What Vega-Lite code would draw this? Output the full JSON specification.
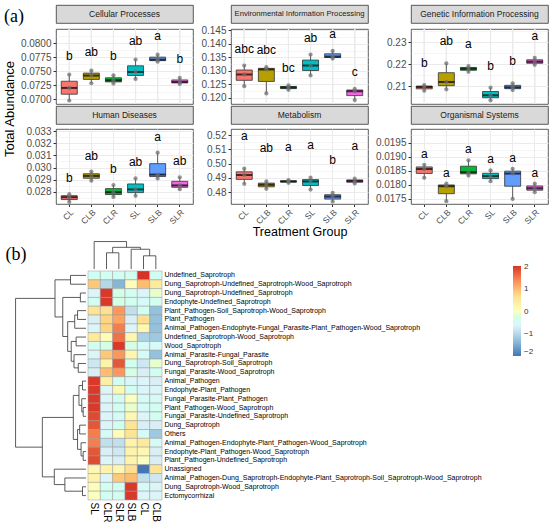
{
  "$schema": "https://vega.github.io/schema/vega-lite/v6.json",
  "padding": {"left": 3, "top": 4, "right": 1, "bottom": 1},
  "background": "white",
  "config": {
    "font": "Liberation Sans",
    "view": {"stroke": null},
    "axis": {"labelFont": "Liberation Sans", "titleFont": "Liberation Sans"},
    "text": {"font": "Liberation Sans"}
  },
  "datasets": {
    "box": [
      {"p":"C","g":"CL","l":"b","v":0.06982},{"p":"C","g":"CL","l":"b","v":0.07205},{"p":"C","g":"CL","l":"b","v":0.07442},
      {"p":"C","g":"CLB","l":"ab","v":0.07288},{"p":"C","g":"CLB","l":"ab","v":0.07424},{"p":"C","g":"CLB","l":"ab","v":0.07512},
      {"p":"C","g":"CLR","l":"b","v":0.07283},{"p":"C","g":"CLR","l":"b","v":0.07341},{"p":"C","g":"CLR","l":"b","v":0.07429},
      {"p":"C","g":"SL","l":"ab","v":0.07364},{"p":"C","g":"SL","l":"ab","v":0.07488},{"p":"C","g":"SL","l":"ab","v":0.07707},
      {"p":"C","g":"SLB","l":"a","v":0.07671},{"p":"C","g":"SLB","l":"a","v":0.07707},{"p":"C","g":"SLB","l":"a","v":0.07795},
      {"p":"C","g":"SLR","l":"b","v":0.07276},{"p":"C","g":"SLR","l":"b","v":0.07311},{"p":"C","g":"SLR","l":"b","v":0.07382},
      {"p":"E","g":"CL","l":"abc","v":0.12432},{"p":"E","g":"CL","l":"abc","v":0.12864},{"p":"E","g":"CL","l":"abc","v":0.13196},
      {"p":"E","g":"CLB","l":"abc","v":0.12162},{"p":"E","g":"CLB","l":"abc","v":0.13049},{"p":"E","g":"CLB","l":"abc","v":0.13134},
      {"p":"E","g":"CLR","l":"bc","v":0.12295},{"p":"E","g":"CLR","l":"bc","v":0.12384},{"p":"E","g":"CLR","l":"bc","v":0.12458},
      {"p":"E","g":"SL","l":"ab","v":0.12827},{"p":"E","g":"SL","l":"ab","v":0.13196},{"p":"E","g":"SL","l":"ab","v":0.13602},
      {"p":"E","g":"SLB","l":"a","v":0.13455},{"p":"E","g":"SLB","l":"a","v":0.13528},{"p":"E","g":"SLB","l":"a","v":0.13736},
      {"p":"E","g":"SLR","l":"c","v":0.11915},{"p":"E","g":"SLR","l":"c","v":0.12247},{"p":"E","g":"SLR","l":"c","v":0.12332},
      {"p":"G","g":"CL","l":"b","v":0.20786},{"p":"G","g":"CL","l":"b","v":0.20955},{"p":"G","g":"CL","l":"b","v":0.21045},
      {"p":"G","g":"CLB","l":"ab","v":0.2085},{"p":"G","g":"CLB","l":"ab","v":0.21182},{"p":"G","g":"CLB","l":"ab","v":0.22032},
      {"p":"G","g":"CLR","l":"a","v":0.2165},{"p":"G","g":"CLR","l":"a","v":0.21786},{"p":"G","g":"CLR","l":"a","v":0.21909},
      {"p":"G","g":"SL","l":"b","v":0.2035},{"p":"G","g":"SL","l":"b","v":0.20577},{"p":"G","g":"SL","l":"b","v":0.20923},
      {"p":"G","g":"SLB","l":"b","v":0.20818},{"p":"G","g":"SLB","l":"b","v":0.2094},{"p":"G","g":"SLB","l":"b","v":0.21121},
      {"p":"G","g":"SLR","l":"a","v":0.21968},{"p":"G","g":"SLR","l":"a","v":0.22105},{"p":"G","g":"SLR","l":"a","v":0.22286},
      {"p":"H","g":"CL","l":"b","v":0.02717},{"p":"H","g":"CL","l":"b","v":0.02756},{"p":"H","g":"CL","l":"b","v":0.02781},
      {"p":"H","g":"CLB","l":"ab","v":0.02892},{"p":"H","g":"CLB","l":"ab","v":0.02931},{"p":"H","g":"CLB","l":"ab","v":0.02967},
      {"p":"H","g":"CLR","l":"b","v":0.02758},{"p":"H","g":"CLR","l":"b","v":0.02797},{"p":"H","g":"CLR","l":"b","v":0.02856},
      {"p":"H","g":"SL","l":"ab","v":0.02767},{"p":"H","g":"SL","l":"ab","v":0.0282},{"p":"H","g":"SL","l":"ab","v":0.0291},
      {"p":"H","g":"SLB","l":"a","v":0.0291},{"p":"H","g":"SLB","l":"a","v":0.02942},{"p":"H","g":"SLB","l":"a","v":0.03122},
      {"p":"H","g":"SLR","l":"ab","v":0.02822},{"p":"H","g":"SLR","l":"ab","v":0.02853},{"p":"H","g":"SLR","l":"ab","v":0.0292},
      {"p":"M","g":"CL","l":"a","v":0.48586},{"p":"M","g":"CL","l":"a","v":0.492},{"p":"M","g":"CL","l":"a","v":0.49644},
      {"p":"M","g":"CLB","l":"ab","v":0.48233},{"p":"M","g":"CLB","l":"ab","v":0.48515},{"p":"M","g":"CLB","l":"ab","v":0.48748},
      {"p":"M","g":"CLR","l":"a","v":0.48656},{"p":"M","g":"CLR","l":"a","v":0.48748},{"p":"M","g":"CLR","l":"a","v":0.48847},
      {"p":"M","g":"SL","l":"a","v":0.48183},{"p":"M","g":"SL","l":"a","v":0.48748},{"p":"M","g":"SL","l":"a","v":0.49009},
      {"p":"M","g":"SLB","l":"b","v":0.47337},{"p":"M","g":"SLB","l":"b","v":0.4769},{"p":"M","g":"SLB","l":"b","v":0.47951},
      {"p":"M","g":"SLR","l":"a","v":0.48607},{"p":"M","g":"SLR","l":"a","v":0.48776},{"p":"M","g":"SLR","l":"a","v":0.48939},
      {"p":"O","g":"CL","l":"a","v":0.01825},{"p":"O","g":"CL","l":"a","v":0.01856},{"p":"O","g":"CL","l":"a","v":0.01871},
      {"p":"O","g":"CLB","l":"a","v":0.01742},{"p":"O","g":"CLB","l":"a","v":0.01795},{"p":"O","g":"CLB","l":"a","v":0.01804},
      {"p":"O","g":"CLR","l":"a","v":0.01833},{"p":"O","g":"CLR","l":"a","v":0.01845},{"p":"O","g":"CLR","l":"a","v":0.01887},
      {"p":"O","g":"SL","l":"a","v":0.01813},{"p":"O","g":"SL","l":"a","v":0.01831},{"p":"O","g":"SL","l":"a","v":0.01851},
      {"p":"O","g":"SLB","l":"a","v":0.0175},{"p":"O","g":"SLB","l":"a","v":0.0184},{"p":"O","g":"SLB","l":"a","v":0.01857},
      {"p":"O","g":"SLR","l":"a","v":0.01774},{"p":"O","g":"SLR","l":"a","v":0.01788},{"p":"O","g":"SLR","l":"a","v":0.01804}
    ],
    "names": [
      {"r":1,"f":"Undefined_Saprotroph"},
      {"r":2,"f":"Dung_Saprotroph-Undefined_Saprotroph-Wood_Saprotroph"},
      {"r":3,"f":"Dung_Saprotroph-Undefined_Saprotroph"},
      {"r":4,"f":"Endophyte-Undefined_Saprotroph"},
      {"r":5,"f":"Plant_Pathogen-Soil_Saprotroph-Wood_Saprotroph"},
      {"r":6,"f":"Plant_Pathogen"},
      {"r":7,"f":"Animal_Pathogen-Endophyte-Fungal_Parasite-Plant_Pathogen-Wood_Saprotroph"},
      {"r":8,"f":"Undefined_Saprotroph-Wood_Saprotroph"},
      {"r":9,"f":"Wood_Saprotroph"},
      {"r":10,"f":"Animal_Parasite-Fungal_Parasite"},
      {"r":11,"f":"Dung_Saprotroph-Soil_Saprotroph"},
      {"r":12,"f":"Fungal_Parasite-Wood_Saprotroph"},
      {"r":13,"f":"Animal_Pathogen"},
      {"r":14,"f":"Endophyte-Plant_Pathogen"},
      {"r":15,"f":"Fungal_Parasite-Plant_Pathogen"},
      {"r":16,"f":"Plant_Pathogen-Wood_Saprotroph"},
      {"r":17,"f":"Fungal_Parasite-Undefined_Saprotroph"},
      {"r":18,"f":"Dung_Saprotroph"},
      {"r":19,"f":"Others"},
      {"r":20,"f":"Animal_Pathogen-Endophyte-Plant_Pathogen-Wood_Saprotroph"},
      {"r":21,"f":"Endophyte-Plant_Pathogen-Wood_Saprotroph"},
      {"r":22,"f":"Plant_Pathogen-Undefined_Saprotroph"},
      {"r":23,"f":"Unassigned"},
      {"r":24,"f":"Animal_Pathogen-Dung_Saprotroph-Endophyte-Plant_Saprotroph-Soil_Saprotroph-Wood_Saprotroph"},
      {"r":25,"f":"Dung_Saprotroph-Wood_Saprotroph"},
      {"r":26,"f":"Ectomycorrhizal"}
    ],
    "heat": [
      {"r":1,"g":"SL","z":-0.41},{"r":1,"g":"CLR","z":-0.41},{"r":1,"g":"SLR","z":-0.41},{"r":1,"g":"SLB","z":-0.41},{"r":1,"g":"CL","z":2.04},{"r":1,"g":"CLB","z":-0.41},
      {"r":2,"g":"SL","z":0.9},{"r":2,"g":"CLR","z":-1.0},{"r":2,"g":"SLR","z":-1.4},{"r":2,"g":"SLB","z":0.1},{"r":2,"g":"CL","z":1.0},{"r":2,"g":"CLB","z":0.5},
      {"r":3,"g":"SL","z":-0.6},{"r":3,"g":"CLR","z":2.0},{"r":3,"g":"SLR","z":-0.3},{"r":3,"g":"SLB","z":-0.4},{"r":3,"g":"CL","z":-0.6},{"r":3,"g":"CLB","z":-0.1},
      {"r":4,"g":"SL","z":-0.4},{"r":4,"g":"CLR","z":2.0},{"r":4,"g":"SLR","z":-0.3},{"r":4,"g":"SLB","z":-0.4},{"r":4,"g":"CL","z":-0.5},{"r":4,"g":"CLB","z":-0.4},
      {"r":5,"g":"SL","z":0.6},{"r":5,"g":"CLR","z":0.7},{"r":5,"g":"SLR","z":1.3},{"r":5,"g":"SLB","z":-0.9},{"r":5,"g":"CL","z":-0.4},{"r":5,"g":"CLB","z":-1.3},
      {"r":6,"g":"SL","z":-0.7},{"r":6,"g":"CLR","z":0.8},{"r":6,"g":"SLR","z":1.2},{"r":6,"g":"SLB","z":-0.7},{"r":6,"g":"CL","z":0.7},{"r":6,"g":"CLB","z":-1.3},
      {"r":7,"g":"SL","z":-0.6},{"r":7,"g":"CLR","z":0.8},{"r":7,"g":"SLR","z":1.5},{"r":7,"g":"SLB","z":-0.6},{"r":7,"g":"CL","z":0.2},{"r":7,"g":"CLB","z":-1.3},
      {"r":8,"g":"SL","z":0.5},{"r":8,"g":"CLR","z":0.1},{"r":8,"g":"SLR","z":1.6},{"r":8,"g":"SLB","z":0.2},{"r":8,"g":"CL","z":-1.1},{"r":8,"g":"CLB","z":-1.2},
      {"r":9,"g":"SL","z":-0.4},{"r":9,"g":"CLR","z":-0.3},{"r":9,"g":"SLR","z":2.0},{"r":9,"g":"SLB","z":-0.3},{"r":9,"g":"CL","z":-0.5},{"r":9,"g":"CLB","z":-0.5},
      {"r":10,"g":"SL","z":-0.6},{"r":10,"g":"CLR","z":0.9},{"r":10,"g":"SLR","z":1.3},{"r":10,"g":"SLB","z":0.2},{"r":10,"g":"CL","z":-0.5},{"r":10,"g":"CLB","z":-1.3},
      {"r":11,"g":"SL","z":-0.8},{"r":11,"g":"CLR","z":0.3},{"r":11,"g":"SLR","z":1.8},{"r":11,"g":"SLB","z":-0.4},{"r":11,"g":"CL","z":-0.8},{"r":11,"g":"CLB","z":-0.1},
      {"r":12,"g":"SL","z":-0.7},{"r":12,"g":"CLR","z":1.0},{"r":12,"g":"SLR","z":1.3},{"r":12,"g":"SLB","z":-0.3},{"r":12,"g":"CL","z":-0.7},{"r":12,"g":"CLB","z":-0.4},
      {"r":13,"g":"SL","z":2.0},{"r":13,"g":"CLR","z":0.4},{"r":13,"g":"SLR","z":-0.4},{"r":13,"g":"SLB","z":-0.6},{"r":13,"g":"CL","z":-0.6},{"r":13,"g":"CLB","z":-0.7},
      {"r":14,"g":"SL","z":2.0},{"r":14,"g":"CLR","z":-0.6},{"r":14,"g":"SLR","z":0.2},{"r":14,"g":"SLB","z":-0.4},{"r":14,"g":"CL","z":-0.6},{"r":14,"g":"CLB","z":-0.6},
      {"r":15,"g":"SL","z":2.0},{"r":15,"g":"CLR","z":-0.6},{"r":15,"g":"SLR","z":-0.4},{"r":15,"g":"SLB","z":0.0},{"r":15,"g":"CL","z":-0.5},{"r":15,"g":"CLB","z":-0.5},
      {"r":16,"g":"SL","z":2.0},{"r":16,"g":"CLR","z":-0.6},{"r":16,"g":"SLR","z":-0.4},{"r":16,"g":"SLB","z":-0.1},{"r":16,"g":"CL","z":-0.5},{"r":16,"g":"CLB","z":-0.4},
      {"r":17,"g":"SL","z":1.9},{"r":17,"g":"CLR","z":-0.6},{"r":17,"g":"SLR","z":-0.5},{"r":17,"g":"SLB","z":0.2},{"r":17,"g":"CL","z":-0.6},{"r":17,"g":"CLB","z":-0.4},
      {"r":18,"g":"SL","z":1.8},{"r":18,"g":"CLR","z":-0.6},{"r":18,"g":"SLR","z":-0.4},{"r":18,"g":"SLB","z":0.6},{"r":18,"g":"CL","z":-0.7},{"r":18,"g":"CLB","z":-0.7},
      {"r":19,"g":"SL","z":1.5},{"r":19,"g":"CLR","z":-0.5},{"r":19,"g":"SLR","z":0.1},{"r":19,"g":"SLB","z":0.6},{"r":19,"g":"CL","z":-0.5},{"r":19,"g":"CLB","z":-1.2},
      {"r":20,"g":"SL","z":1.5},{"r":20,"g":"CLR","z":-0.9},{"r":20,"g":"SLR","z":-0.9},{"r":20,"g":"SLB","z":0.3},{"r":20,"g":"CL","z":0.5},{"r":20,"g":"CLB","z":-0.5},
      {"r":21,"g":"SL","z":1.8},{"r":21,"g":"CLR","z":-0.7},{"r":21,"g":"SLR","z":-0.8},{"r":21,"g":"SLB","z":0.3},{"r":21,"g":"CL","z":0.2},{"r":21,"g":"CLB","z":-0.7},
      {"r":22,"g":"SL","z":1.9},{"r":22,"g":"CLR","z":-0.6},{"r":22,"g":"SLR","z":-0.7},{"r":22,"g":"SLB","z":0.3},{"r":22,"g":"CL","z":0.0},{"r":22,"g":"CLB","z":-0.7},
      {"r":23,"g":"SL","z":0.2},{"r":23,"g":"CLR","z":0.3},{"r":23,"g":"SLR","z":0.2},{"r":23,"g":"SLB","z":0.7},{"r":23,"g":"CL","z":-2.0},{"r":23,"g":"CLB","z":0.6},
      {"r":24,"g":"SL","z":0.3},{"r":24,"g":"CLR","z":-0.6},{"r":24,"g":"SLR","z":0.9},{"r":24,"g":"SLB","z":1.0},{"r":24,"g":"CL","z":-0.9},{"r":24,"g":"CLB","z":-0.8},
      {"r":25,"g":"SL","z":0.1},{"r":25,"g":"CLR","z":-0.4},{"r":25,"g":"SLR","z":-0.4},{"r":25,"g":"SLB","z":2.0},{"r":25,"g":"CL","z":-0.5},{"r":25,"g":"CLB","z":-0.6},
      {"r":26,"g":"SL","z":0.0},{"r":26,"g":"CLR","z":-0.4},{"r":26,"g":"SLR","z":-0.4},{"r":26,"g":"SLB","z":2.0},{"r":26,"g":"CL","z":-0.6},{"r":26,"g":"CLB","z":-0.6}
    ],
    "rowtree": [
      {"h":0.22,"a":1,"b":2,"ha":0,"hb":0},
      {"h":0.08,"a":3,"b":4,"ha":0,"hb":0},
      {"h":0.12,"a":5,"b":6,"ha":0,"hb":0},
      {"h":0.16,"a":5.5,"b":7,"ha":0.12,"hb":0},
      {"h":0.14,"a":8,"b":9,"ha":0,"hb":0},
      {"h":0.11,"a":11,"b":12,"ha":0,"hb":0},
      {"h":0.17,"a":10,"b":11.5,"ha":0,"hb":0.11},
      {"h":0.21,"a":8.5,"b":10.75,"ha":0.14,"hb":0.17},
      {"h":0.26,"a":6.25,"b":9.625,"ha":0.16,"hb":0.21},
      {"h":0.33,"a":3.5,"b":7.9375,"ha":0.08,"hb":0.26},
      {"h":0.44,"a":1.5,"b":5.71875,"ha":0.22,"hb":0.33},
      {"h":0.05,"a":13,"b":14,"ha":0,"hb":0},
      {"h":0.04,"a":16,"b":17,"ha":0,"hb":0},
      {"h":0.06,"a":15,"b":16.5,"ha":0,"hb":0.04},
      {"h":0.10,"a":13.5,"b":15.75,"ha":0.05,"hb":0.06},
      {"h":0.09,"a":18,"b":19,"ha":0,"hb":0},
      {"h":0.04,"a":21,"b":22,"ha":0,"hb":0},
      {"h":0.07,"a":20,"b":21.5,"ha":0,"hb":0.04},
      {"h":0.12,"a":18.5,"b":20.75,"ha":0.09,"hb":0.07},
      {"h":0.18,"a":14.625,"b":19.625,"ha":0.10,"hb":0.12},
      {"h":0.05,"a":25,"b":26,"ha":0,"hb":0},
      {"h":0.30,"a":24,"b":25.5,"ha":0,"hb":0.05},
      {"h":0.45,"a":23,"b":24.75,"ha":0,"hb":0.30},
      {"h":0.62,"a":17.125,"b":23.875,"ha":0.18,"hb":0.45},
      {"h":1.0,"a":3.609375,"b":20.5,"ha":0.44,"hb":0.62}
    ],
    "coltree": [
      {"h":0.48,"a":5,"b":6,"ha":0,"hb":0},
      {"h":0.72,"a":4,"b":5.5,"ha":0,"hb":0.48},
      {"h":0.59,"a":2,"b":3,"ha":0,"hb":0},
      {"h":0.79,"a":2.5,"b":4.75,"ha":0.59,"hb":0.72},
      {"h":1.0,"a":1,"b":3.625,"ha":0,"hb":0.79}
    ]
  },
  "spacing": 2,
  "vconcat": [
    {
      "title": {"text": "(a)", "anchor": "start", "orient": "top", "offset": -21, "font": "Liberation Serif", "fontSize": 18, "fontWeight": "normal", "color": "black"},
      "spacing": 2,
      "hconcat": [
        {
          "spacing": 0,
          "vconcat": [
            {
              "width": 10, "height": 18,
              "data": {"values": [{"t": ""}]},
              "mark": {"type": "text", "fontSize": 10},
              "encoding": {"text": {"field": "t"}}
            },
            {
              "width": 10, "height": 172,
              "data": {"values": [{"t": "Total Abundance"}]},
              "mark": {"type": "text", "angle": 270, "fontSize": 13, "baseline": "middle", "color": "black"},
              "encoding": {"text": {"field": "t"}}
            }
          ]
        },
        {
          "columns": 3,
          "align": "each",
          "spacing": {"row": 0, "column": 6},
          "concat": [
            {"width": 137, "height": 18, "view": {"fill": "#d9d9d9", "stroke": "#333333", "strokeWidth": 0.8},
             "data": {"values": [{"t": "Cellular Processes"}]},
             "mark": {"type": "text", "fontSize": 8.5, "color": "#1a1a1a"}, "encoding": {"text": {"field": "t"}}},
            {"width": 137, "height": 18, "view": {"fill": "#d9d9d9", "stroke": "#333333", "strokeWidth": 0.8},
             "data": {"values": [{"t": "Environmental Information Processing"}]},
             "mark": {"type": "text", "fontSize": 7.7, "color": "#1a1a1a"}, "encoding": {"text": {"field": "t"}}},
            {"width": 137, "height": 18, "view": {"fill": "#d9d9d9", "stroke": "#333333", "strokeWidth": 0.8},
             "data": {"values": [{"t": "Genetic Information Processing"}]},
             "mark": {"type": "text", "fontSize": 8.5, "color": "#1a1a1a"}, "encoding": {"text": {"field": "t"}}},
            {
              "width": 137, "height": 75, "view": {"fill": "white", "stroke": "#333333", "strokeWidth": 0.8},
              "data": {"name": "box"}, "transform": [{"filter": "datum.p == 'C'"}],
              "encoding": {
                "x": {"field": "g", "type": "nominal", "scale": {"domain": ["CL","CLB","CLR","SL","SLB","SLR"], "paddingInner": 0, "paddingOuter": 0.1}, "axis": null},
                "y": {"field": "v", "type": "quantitative", "scale": {"domain": [0.0692, 0.0825], "nice": false, "zero": false},
                      "axis": {"title": null, "values": [0.07,0.07125,0.0725,0.07375,0.075,0.07625,0.0775,0.07875,0.08,0.08125],
                               "labelExpr": "abs(datum.value/0.0025-round(datum.value/0.0025))<0.01 ? format(datum.value,'.4f') : ''",
                               "labelOverlap": false, "labelFontSize": 10, "labelColor": "#4d4d4d", "labelPadding": 2, "tickSize": 3,
                               "tickColor": {"condition": {"test": "abs(datum.value/0.0025-round(datum.value/0.0025))<0.01", "value": "#333333"}, "value": "transparent"},
                               "gridWidth": {"condition": {"test": "abs(datum.value/0.0025-round(datum.value/0.0025))<0.01", "value": 1}, "value": 0.5},
                               "domain": false, "grid": true, "gridColor": "#ebebeb"}}
              },
              "layer": [
                {"mark": {"type": "rule", "color": "#ebebeb", "strokeWidth": 1}, "encoding": {"y": {"value": 0}, "y2": {"value": "height"}}},
                {"mark": {"type": "boxplot", "size": 16, "extent": 1.5, "outliers": false, "ticks": false, "box": {"stroke": "#333333", "strokeWidth": 0.8}, "median": {"color": "#000000", "thickness": 2}, "rule": {"color": "#333333", "strokeWidth": 0.8}},
                 "encoding": {"color": {"field": "g", "type": "nominal", "scale": {"domain": ["CL","CLB","CLR","SL","SLB","SLR"], "range": ["#F8766D","#B79F00","#00BA38","#00BFC4","#619CFF","#F564E3"]}, "legend": null}}},
                {"mark": {"type": "point", "filled": true, "color": "#707070", "size": 18, "opacity": 0.75}},
                {"transform": [{"aggregate": [{"op": "max", "field": "v", "as": "v"}], "groupby": ["g", "l"]}],
                 "mark": {"type": "text", "fontSize": 12, "dy": -19, "baseline": "middle", "color": "black"}, "encoding": {"text": {"field": "l"}}}
              ]
            },
            {
              "width": 137, "height": 75, "view": {"fill": "white", "stroke": "#333333", "strokeWidth": 0.8},
              "data": {"name": "box"}, "transform": [{"filter": "datum.p == 'E'"}],
              "encoding": {
                "x": {"field": "g", "type": "nominal", "scale": {"domain": ["CL","CLB","CLR","SL","SLB","SLR"], "paddingInner": 0, "paddingOuter": 0.1}, "axis": null},
                "y": {"field": "v", "type": "quantitative", "scale": {"domain": [0.1177, 0.1455], "nice": false, "zero": false},
                      "axis": {"title": null, "values": [0.12,0.1225,0.125,0.1275,0.13,0.1325,0.135,0.1375,0.14,0.1425,0.145],
                               "labelExpr": "abs(datum.value/0.005-round(datum.value/0.005))<0.01 ? format(datum.value,'.3f') : ''",
                               "labelOverlap": false, "labelFontSize": 10, "labelColor": "#4d4d4d", "labelPadding": 2, "tickSize": 3,
                               "tickColor": {"condition": {"test": "abs(datum.value/0.005-round(datum.value/0.005))<0.01", "value": "#333333"}, "value": "transparent"},
                               "gridWidth": {"condition": {"test": "abs(datum.value/0.005-round(datum.value/0.005))<0.01", "value": 1}, "value": 0.5},
                               "domain": false, "grid": true, "gridColor": "#ebebeb"}}
              },
              "layer": [
                {"mark": {"type": "rule", "color": "#ebebeb", "strokeWidth": 1}, "encoding": {"y": {"value": 0}, "y2": {"value": "height"}}},
                {"mark": {"type": "boxplot", "size": 16, "extent": 1.5, "outliers": false, "ticks": false, "box": {"stroke": "#333333", "strokeWidth": 0.8}, "median": {"color": "#000000", "thickness": 2}, "rule": {"color": "#333333", "strokeWidth": 0.8}},
                 "encoding": {"color": {"field": "g", "type": "nominal", "scale": {"domain": ["CL","CLB","CLR","SL","SLB","SLR"], "range": ["#F8766D","#B79F00","#00BA38","#00BFC4","#619CFF","#F564E3"]}, "legend": null}}},
                {"mark": {"type": "point", "filled": true, "color": "#707070", "size": 18, "opacity": 0.75}},
                {"transform": [{"aggregate": [{"op": "max", "field": "v", "as": "v"}], "groupby": ["g", "l"]}],
                 "mark": {"type": "text", "fontSize": 12, "dy": -17, "baseline": "middle", "color": "black"}, "encoding": {"text": {"field": "l"}}}
              ]
            },
            {
              "width": 137, "height": 75, "view": {"fill": "white", "stroke": "#333333", "strokeWidth": 0.8},
              "data": {"name": "box"}, "transform": [{"filter": "datum.p == 'G'"}],
              "encoding": {
                "x": {"field": "g", "type": "nominal", "scale": {"domain": ["CL","CLB","CLR","SL","SLB","SLR"], "paddingInner": 0, "paddingOuter": 0.1}, "axis": null},
                "y": {"field": "v", "type": "quantitative", "scale": {"domain": [0.2018, 0.236], "nice": false, "zero": false},
                      "axis": {"title": null, "values": [0.205,0.21,0.215,0.22,0.225,0.23,0.235],
                               "labelExpr": "abs(datum.value/0.01-round(datum.value/0.01))<0.01 ? format(datum.value,'.2f') : ''",
                               "labelOverlap": false, "labelFontSize": 10, "labelColor": "#4d4d4d", "labelPadding": 2, "tickSize": 3,
                               "tickColor": {"condition": {"test": "abs(datum.value/0.01-round(datum.value/0.01))<0.01", "value": "#333333"}, "value": "transparent"},
                               "gridWidth": {"condition": {"test": "abs(datum.value/0.01-round(datum.value/0.01))<0.01", "value": 1}, "value": 0.5},
                               "domain": false, "grid": true, "gridColor": "#ebebeb"}}
              },
              "layer": [
                {"mark": {"type": "rule", "color": "#ebebeb", "strokeWidth": 1}, "encoding": {"y": {"value": 0}, "y2": {"value": "height"}}},
                {"mark": {"type": "boxplot", "size": 16, "extent": 1.5, "outliers": false, "ticks": false, "box": {"stroke": "#333333", "strokeWidth": 0.8}, "median": {"color": "#000000", "thickness": 2}, "rule": {"color": "#333333", "strokeWidth": 0.8}},
                 "encoding": {"color": {"field": "g", "type": "nominal", "scale": {"domain": ["CL","CLB","CLR","SL","SLB","SLR"], "range": ["#F8766D","#B79F00","#00BA38","#00BFC4","#619CFF","#F564E3"]}, "legend": null}}},
                {"mark": {"type": "point", "filled": true, "color": "#707070", "size": 18, "opacity": 0.75}},
                {"transform": [{"aggregate": [{"op": "max", "field": "v", "as": "v"}], "groupby": ["g", "l"]}],
                 "mark": {"type": "text", "fontSize": 12, "dy": -22, "baseline": "middle", "color": "black"}, "encoding": {"text": {"field": "l"}}}
              ]
            },
            {"width": 137, "height": 18, "view": {"fill": "#d9d9d9", "stroke": "#333333", "strokeWidth": 0.8},
             "data": {"values": [{"t": "Human Diseases"}]},
             "mark": {"type": "text", "fontSize": 8.5, "color": "#1a1a1a"}, "encoding": {"text": {"field": "t"}}},
            {"width": 137, "height": 18, "view": {"fill": "#d9d9d9", "stroke": "#333333", "strokeWidth": 0.8},
             "data": {"values": [{"t": "Metabolism"}]},
             "mark": {"type": "text", "fontSize": 8.5, "color": "#1a1a1a"}, "encoding": {"text": {"field": "t"}}},
            {"width": 137, "height": 18, "view": {"fill": "#d9d9d9", "stroke": "#333333", "strokeWidth": 0.8},
             "data": {"values": [{"t": "Organismal Systems"}]},
             "mark": {"type": "text", "fontSize": 8.5, "color": "#1a1a1a"}, "encoding": {"text": {"field": "t"}}},
            {
              "width": 137, "height": 75, "view": {"fill": "white", "stroke": "#333333", "strokeWidth": 0.8},
              "data": {"name": "box"}, "transform": [{"filter": "datum.p == 'H'"}],
              "encoding": {
                "x": {"field": "g", "type": "nominal", "scale": {"domain": ["CL","CLB","CLR","SL","SLB","SLR"], "paddingInner": 0, "paddingOuter": 0.1},
                      "axis": {"title": null, "labelAngle": -45, "labelFontSize": 8.5, "labelColor": "#4d4d4d", "labelPadding": 1, "ticks": true, "tickSize": 2.5, "tickColor": "#333333", "domain": false, "grid": true, "gridColor": "#ebebeb", "bandPosition": 0.5}},
                "y": {"field": "v", "type": "quantitative", "scale": {"domain": [0.027, 0.03317], "nice": false, "zero": false},
                      "axis": {"title": null, "values": [0.0275,0.028,0.0285,0.029,0.0295,0.03,0.0305,0.031,0.0315,0.032,0.0325,0.033],
                               "labelExpr": "abs(datum.value/0.001-round(datum.value/0.001))<0.01 ? format(datum.value,'.3f') : ''",
                               "labelOverlap": false, "labelFontSize": 10, "labelColor": "#4d4d4d", "labelPadding": 2, "tickSize": 3,
                               "tickColor": {"condition": {"test": "abs(datum.value/0.001-round(datum.value/0.001))<0.01", "value": "#333333"}, "value": "transparent"},
                               "gridWidth": {"condition": {"test": "abs(datum.value/0.001-round(datum.value/0.001))<0.01", "value": 1}, "value": 0.5},
                               "domain": false, "grid": true, "gridColor": "#ebebeb"}}
              },
              "layer": [
                {"mark": {"type": "boxplot", "size": 16, "extent": 1.5, "outliers": false, "ticks": false, "box": {"stroke": "#333333", "strokeWidth": 0.8}, "median": {"color": "#000000", "thickness": 2}, "rule": {"color": "#333333", "strokeWidth": 0.8}},
                 "encoding": {"color": {"field": "g", "type": "nominal", "scale": {"domain": ["CL","CLB","CLR","SL","SLB","SLR"], "range": ["#F8766D","#B79F00","#00BA38","#00BFC4","#619CFF","#F564E3"]}, "legend": null}}},
                {"mark": {"type": "point", "filled": true, "color": "#707070", "size": 18, "opacity": 0.75}},
                {"transform": [{"aggregate": [{"op": "max", "field": "v", "as": "v"}], "groupby": ["g", "l"]}],
                 "mark": {"type": "text", "fontSize": 12, "dy": -16, "baseline": "middle", "color": "black"}, "encoding": {"text": {"field": "l"}}}
              ]
            },
            {
              "width": 137, "height": 75, "view": {"fill": "white", "stroke": "#333333", "strokeWidth": 0.8},
              "data": {"name": "box"}, "transform": [{"filter": "datum.p == 'M'"}],
              "encoding": {
                "x": {"field": "g", "type": "nominal", "scale": {"domain": ["CL","CLB","CLR","SL","SLB","SLR"], "paddingInner": 0, "paddingOuter": 0.1},
                      "axis": {"title": "Treatment Group", "titleFontSize": 12.5, "titleFontWeight": "normal", "titleColor": "black", "titlePadding": 0,
                               "labelAngle": -45, "labelFontSize": 8.5, "labelColor": "#4d4d4d", "labelPadding": 1, "ticks": true, "tickSize": 2.5, "tickColor": "#333333", "domain": false, "grid": true, "gridColor": "#ebebeb", "bandPosition": 0.5}},
                "y": {"field": "v", "type": "quantitative", "scale": {"domain": [0.4717, 0.5242], "nice": false, "zero": false},
                      "axis": {"title": null, "values": [0.475,0.48,0.485,0.49,0.495,0.5,0.505,0.51,0.515,0.52],
                               "labelExpr": "abs(datum.value/0.01-round(datum.value/0.01))<0.01 ? format(datum.value,'.2f') : ''",
                               "labelOverlap": false, "labelFontSize": 10, "labelColor": "#4d4d4d", "labelPadding": 2, "tickSize": 3,
                               "tickColor": {"condition": {"test": "abs(datum.value/0.01-round(datum.value/0.01))<0.01", "value": "#333333"}, "value": "transparent"},
                               "gridWidth": {"condition": {"test": "abs(datum.value/0.01-round(datum.value/0.01))<0.01", "value": 1}, "value": 0.5},
                               "domain": false, "grid": true, "gridColor": "#ebebeb"}}
              },
              "layer": [
                {"mark": {"type": "boxplot", "size": 16, "extent": 1.5, "outliers": false, "ticks": false, "box": {"stroke": "#333333", "strokeWidth": 0.8}, "median": {"color": "#000000", "thickness": 2}, "rule": {"color": "#333333", "strokeWidth": 0.8}},
                 "encoding": {"color": {"field": "g", "type": "nominal", "scale": {"domain": ["CL","CLB","CLR","SL","SLB","SLR"], "range": ["#F8766D","#B79F00","#00BA38","#00BFC4","#619CFF","#F564E3"]}, "legend": null}}},
                {"mark": {"type": "point", "filled": true, "color": "#707070", "size": 18, "opacity": 0.75}},
                {"transform": [{"aggregate": [{"op": "max", "field": "v", "as": "v"}], "groupby": ["g", "l"]}],
                 "mark": {"type": "text", "fontSize": 12, "dy": -33, "baseline": "middle", "color": "black"}, "encoding": {"text": {"field": "l"}}}
              ]
            },
            {
              "width": 137, "height": 75, "view": {"fill": "white", "stroke": "#333333", "strokeWidth": 0.8},
              "data": {"name": "box"}, "transform": [{"filter": "datum.p == 'O'"}],
              "encoding": {
                "x": {"field": "g", "type": "nominal", "scale": {"domain": ["CL","CLB","CLR","SL","SLB","SLR"], "paddingInner": 0, "paddingOuter": 0.1},
                      "axis": {"title": null, "labelAngle": -45, "labelFontSize": 8.5, "labelColor": "#4d4d4d", "labelPadding": 1, "ticks": true, "tickSize": 2.5, "tickColor": "#333333", "domain": false, "grid": true, "gridColor": "#ebebeb", "bandPosition": 0.5}},
                "y": {"field": "v", "type": "quantitative", "scale": {"domain": [0.01732, 0.01998], "nice": false, "zero": false},
                      "axis": {"title": null, "values": [0.0175,0.01775,0.018,0.01825,0.0185,0.01875,0.019,0.01925,0.0195,0.01975],
                               "labelExpr": "abs(datum.value/0.0005-round(datum.value/0.0005))<0.01 ? format(datum.value,'.4f') : ''",
                               "labelOverlap": false, "labelFontSize": 10, "labelColor": "#4d4d4d", "labelPadding": 2, "tickSize": 3,
                               "tickColor": {"condition": {"test": "abs(datum.value/0.0005-round(datum.value/0.0005))<0.01", "value": "#333333"}, "value": "transparent"},
                               "gridWidth": {"condition": {"test": "abs(datum.value/0.0005-round(datum.value/0.0005))<0.01", "value": 1}, "value": 0.5},
                               "domain": false, "grid": true, "gridColor": "#ebebeb"}}
              },
              "layer": [
                {"mark": {"type": "boxplot", "size": 16, "extent": 1.5, "outliers": false, "ticks": false, "box": {"stroke": "#333333", "strokeWidth": 0.8}, "median": {"color": "#000000", "thickness": 2}, "rule": {"color": "#333333", "strokeWidth": 0.8}},
                 "encoding": {"color": {"field": "g", "type": "nominal", "scale": {"domain": ["CL","CLB","CLR","SL","SLB","SLR"], "range": ["#F8766D","#B79F00","#00BA38","#00BFC4","#619CFF","#F564E3"]}, "legend": null}}},
                {"mark": {"type": "point", "filled": true, "color": "#707070", "size": 18, "opacity": 0.75}},
                {"transform": [{"aggregate": [{"op": "max", "field": "v", "as": "v"}], "groupby": ["g", "l"]}],
                 "mark": {"type": "text", "fontSize": 12, "dy": -11, "baseline": "middle", "color": "black"}, "encoding": {"text": {"field": "l"}}}
              ]
            }
          ]
        }
      ]
    },
    {
      "columns": 2,
      "spacing": 0,
      "concat": [
        {
          "width": 81, "height": 28,
          "data": {"values": [{"t": "(b)"}]},
          "mark": {"type": "text", "font": "Liberation Serif", "fontSize": 18, "align": "left", "dx": -40, "dy": 0, "baseline": "middle", "color": "black"},
          "encoding": {"text": {"field": "t"}}
        },
        {
          "width": 74, "height": 28,
          "data": {"name": "coltree"},
          "layer": [
            {"mark": {"type": "rule", "color": "#333333", "strokeWidth": 0.8},
             "encoding": {"x": {"field": "a", "type": "quantitative", "scale": {"domain": [0.5, 6.5], "nice": false, "zero": false}, "axis": null},
                          "x2": {"field": "b"},
                          "y": {"field": "h", "type": "quantitative", "scale": {"domain": [0, 1.02], "nice": false, "zero": false}, "axis": null}}},
            {"mark": {"type": "rule", "color": "#333333", "strokeWidth": 0.8},
             "encoding": {"x": {"field": "a", "type": "quantitative", "axis": null},
                          "y": {"field": "ha", "type": "quantitative", "axis": null},
                          "y2": {"field": "h"}}},
            {"mark": {"type": "rule", "color": "#333333", "strokeWidth": 0.8},
             "encoding": {"x": {"field": "b", "type": "quantitative", "axis": null},
                          "y": {"field": "hb", "type": "quantitative", "axis": null},
                          "y2": {"field": "h"}}}
          ]
        },
        {
          "width": 81, "height": 229,
          "data": {"name": "rowtree"},
          "layer": [
            {"mark": {"type": "rule", "color": "#333333", "strokeWidth": 0.8},
             "encoding": {"x": {"field": "h", "type": "quantitative", "scale": {"domain": [0, 1.15], "reverse": true, "nice": false, "zero": false}, "axis": null},
                          "y": {"field": "a", "type": "quantitative", "scale": {"domain": [0.5, 26.5], "reverse": true, "nice": false, "zero": false}, "axis": null},
                          "y2": {"field": "b"}}},
            {"mark": {"type": "rule", "color": "#333333", "strokeWidth": 0.8},
             "encoding": {"x": {"field": "ha", "type": "quantitative", "axis": null},
                          "x2": {"field": "h"},
                          "y": {"field": "a", "type": "quantitative", "axis": null}}},
            {"mark": {"type": "rule", "color": "#333333", "strokeWidth": 0.8},
             "encoding": {"x": {"field": "hb", "type": "quantitative", "axis": null},
                          "x2": {"field": "h"},
                          "y": {"field": "b", "type": "quantitative", "axis": null}}}
          ]
        },
        {
          "width": 74, "height": 229,
          "data": {"name": "heat"},
          "transform": [{"lookup": "r", "from": {"data": {"name": "names"}, "key": "r", "fields": ["f"]}}],
          "mark": {"type": "rect", "stroke": "#999999", "strokeWidth": 0.5},
          "encoding": {
            "x": {"field": "g", "type": "nominal", "sort": ["SL","CLR","SLR","SLB","CL","CLB"],
                  "axis": {"title": null, "orient": "bottom", "labelAngle": 90, "labelFontSize": 10, "labelColor": "black", "ticks": false, "domain": false, "labelPadding": 2}},
            "y": {"field": "f", "type": "nominal", "sort": {"field": "r", "op": "min"},
                  "axis": {"title": null, "orient": "right", "labelFontSize": 7, "labelColor": "black", "ticks": false, "domain": false, "labelPadding": 2, "labelLimit": 500}},
            "color": {"field": "z", "type": "quantitative",
                      "scale": {"domain": [-2, -1.325, -0.65, 0.025, 0.7, 1.375, 2.05], "range": ["#4575B4","#91BFDB","#E0F3F8","#FFFFBF","#FEE090","#FC8D59","#D73027"]},
                      "legend": {"title": null, "orient": "none", "legendX": 508, "legendY": 25, "gradientLength": 90, "gradientThickness": 8, "labelFontSize": 8, "labelColor": "#333333", "values": [-2, -1, 0, 1, 2], "labelOffset": 3, "direction": "vertical"}}
          }
        }
      ]
    }
  ]
}
